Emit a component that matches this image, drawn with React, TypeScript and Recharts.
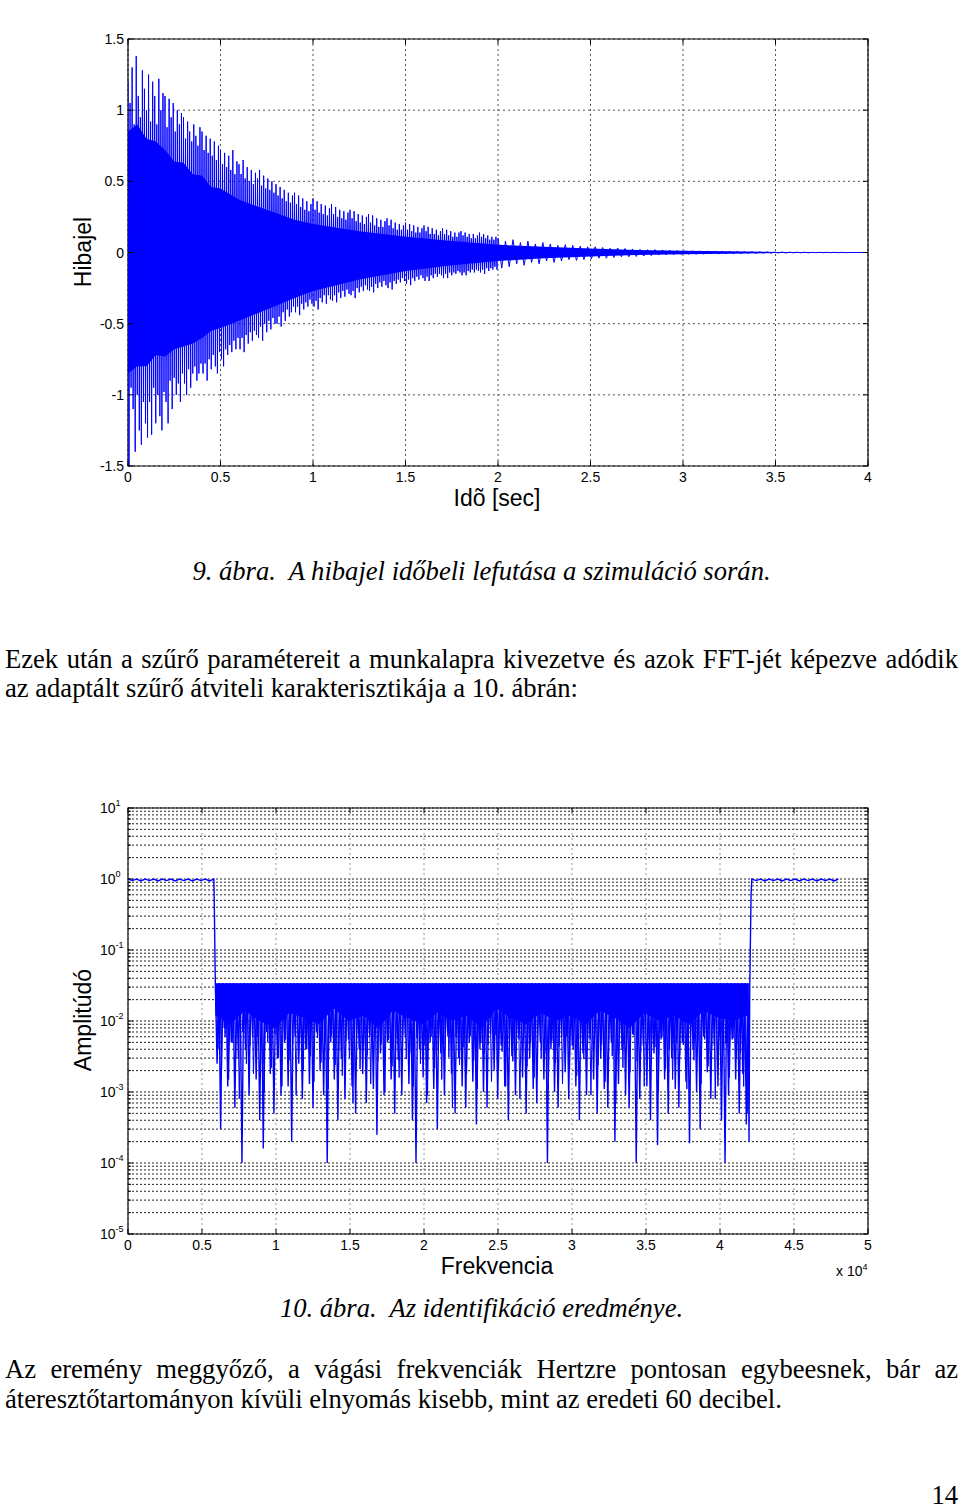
import React from "react";
import {
  ComposedChart,
  Line,
  Area,
  XAxis,
  YAxis,
  CartesianGrid,
  ReferenceArea,
} from "recharts";

// ---------- 9. ábra: hibajel ----------
const timeTicks = [0, 0.5, 1, 1.5, 2, 2.5, 3, 3.5, 4];
const errTicks = [-1.5, -1, -0.5, 0, 0.5, 1, 1.5];

// solid part of the signal (upper / lower edge)
const coreT = [0, 0.05, 0.1, 0.15, 0.2, 0.25, 0.3, 0.35, 0.4, 0.45, 0.5, 0.6, 0.75, 0.9, 1, 1.25, 1.5, 1.75, 2, 2.25, 2.5, 2.75, 3, 3.25, 3.5, 3.75, 4];
const coreHi = [0.85, 0.9, 0.8, 0.78, 0.72, 0.64, 0.63, 0.55, 0.54, 0.46, 0.45, 0.37, 0.3, 0.23, 0.2, 0.15, 0.11, 0.08, 0.055, 0.04, 0.028, 0.018, 0.012, 0.008, 0.004, 0.002, 0.001];
const coreLo = [-0.85, -0.8, -0.8, -0.72, -0.73, -0.68, -0.66, -0.64, -0.6, -0.55, -0.53, -0.48, -0.4, -0.32, -0.27, -0.19, -0.13, -0.09, -0.06, -0.04, -0.028, -0.018, -0.012, -0.008, -0.004, -0.002, -0.001];

// samples 0 .. 2 s (alternating peaks)
const errEarly = [
  1.2, -1.5, 1.05, -0.95, 1.3, -1.1, 0.9, -1.4, 1.38, -1.0, 1.1, -1.25, 0.95, -1.35, 1.28, -1.05, 1.15, -1.2,
  1.0, -1.3, 1.25, -1.05, 0.92, -1.28, 1.2, -0.95, 1.1, -1.2, 0.9, -1.0, 1.22, -1.15, 1.0, -1.25, 1.12, -0.98,
  1.1, -1.05, 0.88, -1.2, 1.08, -0.9, 0.95, -1.1, 1.05, -0.88, 0.85, -1.0, 1.0, -0.92, 0.9, -1.05, 0.98, -0.85,
  0.95, -0.92, 0.8, -1.0, 0.92, -0.82, 0.85, -0.95, 0.78, -0.85, 0.9, -0.8, 0.82, -0.9, 0.75, -0.85, 0.88, -0.78,
  0.85, -0.85, 0.72, -0.78, 0.82, -0.9, 0.7, -0.75, 0.8, -0.82, 0.68, -0.72, 0.78, -0.8, 0.65, -0.85, 0.75, -0.7,
  0.72, -0.75, 0.62, -0.8, 0.7, -0.68, 0.6, -0.72, 0.68, -0.65, 0.58, -0.7, 0.72, -0.62, 0.55, -0.68, 0.64, -0.6,
  0.62, -0.68, 0.55, -0.6, 0.65, -0.7, 0.52, -0.58, 0.6, -0.64, 0.5, -0.56, 0.58, -0.62, 0.48, -0.55, 0.56, -0.58,
  0.52, -0.6, 0.58, -0.52, 0.47, -0.62, 0.54, -0.5, 0.45, -0.56, 0.52, -0.48, 0.44, -0.54, 0.5, -0.46, 0.42, -0.5,
  0.48, -0.5, 0.4, -0.45, 0.46, -0.52, 0.38, -0.42, 0.44, -0.48, 0.36, -0.4, 0.42, -0.45, 0.35, -0.42, 0.4, -0.38,
  0.42, -0.42, 0.34, -0.38, 0.4, -0.44, 0.32, -0.36, 0.38, -0.4, 0.3, -0.35, 0.36, -0.38, 0.29, -0.33, 0.34, -0.36,
  0.38, -0.38, 0.3, -0.34, 0.36, -0.4, 0.28, -0.32, 0.34, -0.35, 0.27, -0.3, 0.33, -0.36, 0.26, -0.3, 0.31, -0.33,
  0.34, -0.34, 0.27, -0.3, 0.32, -0.35, 0.25, -0.28, 0.3, -0.32, 0.24, -0.27, 0.29, -0.31, 0.23, -0.26, 0.28, -0.29,
  0.3, -0.3, 0.24, -0.27, 0.29, -0.32, 0.22, -0.25, 0.27, -0.28, 0.21, -0.24, 0.26, -0.27, 0.2, -0.23, 0.25, -0.26,
  0.27, -0.27, 0.21, -0.24, 0.26, -0.28, 0.19, -0.22, 0.24, -0.25, 0.18, -0.21, 0.23, -0.24, 0.18, -0.2, 0.22, -0.23,
  0.24, -0.25, 0.19, -0.21, 0.23, -0.26, 0.17, -0.2, 0.21, -0.22, 0.16, -0.19, 0.2, -0.21, 0.16, -0.18, 0.19, -0.2,
  0.21, -0.22, 0.16, -0.19, 0.2, -0.23, 0.15, -0.18, 0.19, -0.2, 0.14, -0.17, 0.18, -0.19, 0.14, -0.16, 0.17, -0.18,
  0.19, -0.2, 0.15, -0.17, 0.18, -0.2, 0.13, -0.16, 0.17, -0.18, 0.13, -0.15, 0.16, -0.17, 0.12, -0.15, 0.15, -0.16,
  0.17, -0.18, 0.13, -0.15, 0.16, -0.18, 0.12, -0.14, 0.15, -0.16, 0.11, -0.14, 0.14, -0.15, 0.11, -0.13, 0.14, -0.14,
  0.15, -0.16, 0.12, -0.14, 0.14, -0.16, 0.11, -0.13, 0.13, -0.14, 0.1, -0.12, 0.13, -0.14, 0.1, -0.12, 0.12, -0.13,
  0.14, -0.14, 0.11, -0.12, 0.13, -0.15, 0.1, -0.11, 0.12, -0.13, 0.09, -0.11, 0.11, -0.12, 0.09, -0.1, 0.11, -0.12,
];
// samples 2 .. 4 s
const errLate = [
  0.1, -0.11, 0.08, -0.1, 0.09, -0.08, 0.07, -0.09, 0.08, -0.07, 0.06, -0.08, 0.07, -0.06, 0.06, -0.07, 0.05, -0.06, 0.055, -0.05, 0.05, -0.055, 0.045, -0.05, 0.04,
  -0.045, 0.04, -0.04, 0.035, -0.04, 0.03, -0.035, 0.032, -0.03, 0.028, -0.03, 0.025, -0.028, 0.022, -0.025, 0.02, -0.022, 0.02, -0.018, 0.018, -0.016, 0.015, -0.016, 0.014, -0.014,
  0.012, -0.013, 0.011, -0.012, 0.01, -0.01, 0.009, -0.009, 0.008, -0.008, 0.007, -0.007, 0.006, -0.007, 0.006, -0.006, 0.005, -0.005, 0.005, -0.005, 0.004, -0.004, 0.004, -0.004, 0.003,
  -0.003, 0.003, -0.003, 0.002, -0.002, 0.002, -0.002, 0.002, -0.002, 0.001, -0.001, 0.001, -0.001, 0.001, -0.001, 0.001, -0.001, 0.001, -0.001, 0, 0, 0, 0, 0, 0,
];

// ---------- 10. ábra: átviteli karakterisztika ----------
const freqTicks = [0, 5000, 10000, 15000, 20000, 25000, 30000, 35000, 40000, 45000, 50000];
const decades = [-5, -4, -3, -2, -1, 0, 1];
const mantissas = [1, 2, 3, 4, 5, 6, 7, 8, 9];

const lowEdge = 5800;
const passLow = [1, 0.95, 1, 0.94, 1, 0.95, 1, 0.94, 1, 0.95, 1, 0.94, 1, 0.95, 1, 0.94, 1, 0.95, 1, 0.94, 1];
const dropF = [5820, 5850];
const dropA = [0.6, 0.22];

const stopStart = 5900;
const stopEnd = 41900;
const stopTop = 0.034;
// lower edge of the solid stop-band band, evenly spread over the stop band
const stopCoreLo = [
  0.012, 0.009, 0.014, 0.01, 0.008, 0.013, 0.011, 0.009, 0.015, 0.01, 0.012, 0.008, 0.014, 0.011, 0.009, 0.013, 0.01, 0.012, 0.008,
  0.015, 0.011, 0.009, 0.013, 0.01, 0.012, 0.009, 0.014, 0.011, 0.008, 0.013, 0.01, 0.012, 0.009, 0.014, 0.011, 0.01, 0.012,
];
// deep notches of the stop band
const stopDips = [
  0.0025, 0.0003, 0.008, 0.0012, 0.005, 0.0006, 0.003, 0.0001, 0.004, 0.0009,
  0.006, 0.0015, 0.0004, 0.00016, 0.007, 0.0018, 0.0005, 0.003, 0.0009, 0.005,
  0.0012, 0.0002, 0.006, 0.0025, 0.0008, 0.004, 0.0013, 0.0006, 0.007, 0.002,
  0.0009, 0.0001, 0.005, 0.0015, 0.0004, 0.003, 0.0008, 0.0055, 0.0012, 0.0005,
  0.004, 0.0018, 0.0007, 0.006, 0.0011, 0.00025, 0.0035, 0.0009, 0.005, 0.0015,
  0.0005, 0.0028, 0.0009, 0.006, 0.0013, 0.0004, 0.0001, 0.004, 0.0016, 0.0007,
  0.005, 0.0011, 0.0003, 0.0035, 0.0009, 0.006, 0.0018, 0.0005, 0.003, 0.0012,
  0.0006, 0.005, 0.0014, 0.00035, 0.004, 0.001, 0.0006, 0.0065, 0.002, 0.0008,
  0.0045, 0.0012, 0.0004, 0.0032, 0.0009, 0.0055, 0.0016, 0.0005, 0.003, 0.0011,
  0.0007, 0.005, 0.0015, 0.0001, 0.004, 0.001, 0.0006, 0.006, 0.0019, 0.0008,
  0.0045, 0.0012, 0.0004, 0.0035, 0.0009, 0.0055, 0.0015, 0.0005, 0.003, 0.0011,
  0.0006, 0.005, 0.0002, 0.0013, 0.004, 0.0009, 0.0006, 0.0065, 0.0001, 0.0008,
  0.0045, 0.0012, 0.0004, 0.0035, 0.00018, 0.0055, 0.0015, 0.0005, 0.003, 0.0011,
  0.0006, 0.005, 0.0014, 0.00019, 0.004, 0.001, 0.0003, 0.006, 0.0019, 0.0008,
  0.0045, 0.0012, 0.0004, 0.0001, 0.0009, 0.0055, 0.0015, 0.0005, 0.0018, 0.00035,
];
// shallower notches in between
const stopDips2 = [
  0.004, 0.002, 0.006, 0.0015, 0.005, 0.003, 0.0008, 0.007, 0.0025, 0.0045,
  0.0018, 0.006, 0.0035, 0.001, 0.005, 0.0022, 0.0065, 0.003, 0.0012, 0.0055,
  0.0028, 0.0045, 0.0009, 0.006, 0.002, 0.004, 0.0032, 0.0014, 0.0058, 0.0026,
  0.0048, 0.0011, 0.0062, 0.0024, 0.0038, 0.0017, 0.0052, 0.003, 0.0007, 0.0056,
  0.0021, 0.0044, 0.0033, 0.0013, 0.006, 0.0027, 0.0047, 0.001, 0.0054, 0.0023,
  0.0041, 0.0016, 0.0063, 0.0029, 0.0036, 0.0012, 0.0057, 0.0025, 0.0045, 0.0009,
  0.006, 0.0022, 0.0039, 0.0015, 0.0053, 0.0031, 0.0006, 0.0059, 0.0024, 0.0043,
  0.0018, 0.0061, 0.0028, 0.0011, 0.005, 0.0034, 0.0046, 0.0014, 0.0064, 0.002,
  0.0037, 0.0012, 0.0055, 0.0027, 0.0042, 0.0008, 0.0058, 0.0023, 0.0049, 0.0016,
  0.0062, 0.003, 0.0035, 0.0011, 0.0052, 0.0026, 0.0044, 0.0013, 0.006, 0.0021,
  0.004, 0.0017, 0.0056, 0.0029, 0.0038, 0.0009, 0.0061, 0.0024, 0.0047, 0.0014,
  0.0053, 0.0032, 0.0007, 0.0058, 0.0022, 0.0045, 0.0019, 0.0063, 0.0027, 0.0036,
  0.0012, 0.0054, 0.0025, 0.0043, 0.001, 0.0059, 0.0021, 0.0039, 0.0015, 0.0051,
  0.0033, 0.0046, 0.0011, 0.0062, 0.0028, 0.0037, 0.0013, 0.0055, 0.0023, 0.0042,
  0.0008, 0.006, 0.0026, 0.0048, 0.0016, 0.0057, 0.003, 0.0035, 0.0012, 0.0005,
];
const riseF = [41960, 42010, 42060, 42100];
const riseA = [0.0002, 0.03, 0.16, 0.6];
const highStart = 42150;
const highEnd = 48000;
const passHigh = [1, 0.95, 1, 0.94, 1, 0.95, 1, 0.94, 1, 0.95, 1, 0.94, 1, 0.95, 1, 0.94, 1, 0.95, 1, 0.94, 1];

// ---------- data tables ----------
const coreData = coreT.map((t, i) => ({ t, r: [coreLo[i], coreHi[i]] }));
const peakData = [
  ...errEarly.map((v, i) => ({ t: (i * 2) / errEarly.length, v })),
  ...errLate.map((v, i) => ({ t: 2 + (i * 2) / (errLate.length - 1), v })),
];

const logTicks = decades.flatMap((d) => (d === 1 ? [10] : mantissas.map((m) => m * Math.pow(10, d))));

const stopStep = (stopEnd - stopStart) / stopDips.length;
const specData = [
  ...passLow.map((a, i) => ({ f: (i * lowEdge) / (passLow.length - 1), a })),
  ...dropF.map((f, i) => ({ f, a: dropA[i] })),
  ...stopDips.flatMap((d, k) => [
    { f: stopStart + k * stopStep, a: stopTop },
    { f: stopStart + (k + 0.5) * stopStep, a: d },
  ]),
  { f: stopEnd, a: stopTop },
  ...riseF.map((f, i) => ({ f, a: riseA[i] })),
  ...passHigh.map((a, i) => ({ f: highStart + (i * (highEnd - highStart)) / (passHigh.length - 1), a })),
];
const specData2 = [
  ...stopDips2.flatMap((d, k) => [
    { f: stopStart + (k + 0.25) * stopStep, a: stopTop },
    { f: stopStart + (k + 0.75) * stopStep, a: d },
  ]),
  { f: stopEnd - 0.05 * stopStep, a: stopTop },
];
const coreSpec = stopCoreLo.map((lo, i) => ({
  f: stopStart + (i * (stopEnd - stopStart)) / (stopCoreLo.length - 1),
  r: [lo, stopTop],
}));

const BLUE = "#0000ff";
const SANS = "'Liberation Sans', Arial, sans-serif";
const SERIF = "'Liberation Serif', 'Times New Roman', serif";

// plot frames (svg coordinates)
const P1 = { l: 128, r: 868, t: 39, b: 466 };
const P2 = { l: 128, r: 868, t: 48, b: 474 };

function TimeTick(p: any) {
  return (
    <g>
      <line x1={p.x} x2={p.x} y1={P1.b} y2={P1.b - 5} stroke="#000" />
      <line x1={p.x} x2={p.x} y1={P1.t} y2={P1.t + 5} stroke="#000" />
      <text x={p.x} y={P1.b + 16} textAnchor="middle" fontSize={14} fontFamily={SANS} fill="#000">
        {p.payload.value}
      </text>
    </g>
  );
}

function ErrTick(p: any) {
  return (
    <g>
      <line x1={P1.l} x2={P1.l + 5} y1={p.y} y2={p.y} stroke="#000" />
      <line x1={P1.r - 5} x2={P1.r} y1={p.y} y2={p.y} stroke="#000" />
      <text x={124} y={p.y + 5} textAnchor="end" fontSize={14} fontFamily={SANS} fill="#000">
        {p.payload.value}
      </text>
    </g>
  );
}

function FreqTick(p: any) {
  return (
    <g>
      <line x1={p.x} x2={p.x} y1={P2.b} y2={P2.b - 5} stroke="#000" />
      <line x1={p.x} x2={p.x} y1={P2.t} y2={P2.t + 5} stroke="#000" />
      <text x={p.x} y={P2.b + 16} textAnchor="middle" fontSize={14} fontFamily={SANS} fill="#000">
        {p.payload.value / 10000}
      </text>
    </g>
  );
}

function AmpTick(p: any) {
  const lg = Math.log10(p.payload.value);
  const major = Math.abs(lg - Math.round(lg)) < 1e-6;
  const len = major ? 5 : 3;
  return (
    <g>
      <line x1={P2.l} x2={P2.l + len} y1={p.y} y2={p.y} stroke="#000" />
      <line x1={P2.r - len} x2={P2.r} y1={p.y} y2={p.y} stroke="#000" />
      {major && (
        <text x={100} y={p.y + 5} fontSize={14} fontFamily={SANS} fill="#000">
          10
          <tspan dy={-7} fontSize={9}>
            {Math.round(lg)}
          </tspan>
        </text>
      )}
    </g>
  );
}

function TextLine(props: {
  x: number;
  base: number;
  size?: number;
  italic?: boolean;
  width?: number;
  justify?: boolean;
  align?: "left" | "center" | "right";
  children: React.ReactNode;
}) {
  const size = props.size ?? 26.6;
  return (
    <div
      style={{
        position: "absolute",
        left: props.x,
        top: props.base - 0.8375 * size,
        width: props.width,
        fontFamily: SERIF,
        fontSize: size,
        lineHeight: `${size}px`,
        fontStyle: props.italic ? "italic" : "normal",
        whiteSpace: "pre",
        textAlign: props.justify ? "justify" : props.align ?? "left",
        textAlignLast: props.justify ? "justify" : undefined,
        color: "#000",
      }}
    >
      {props.children}
    </div>
  );
}

function AxisTitle(props: { x: number; y: number; rotate?: boolean; children: React.ReactNode }) {
  return (
    <div
      style={{
        position: "absolute",
        left: props.x,
        top: props.y,
        transform: `translate(-50%, -50%)${props.rotate ? " rotate(-90deg)" : ""}`,
        fontFamily: SANS,
        fontSize: 23,
        lineHeight: "23px",
        whiteSpace: "nowrap",
        color: "#000",
      }}
    >
      {props.children}
    </div>
  );
}

function ErrorSignalChart() {
  return (
    <ComposedChart width={960} height={530} margin={{ top: P1.t, right: 960 - P1.r, bottom: 530 - P1.b - 30, left: P1.l - 40 }}>
      <CartesianGrid stroke="#555" strokeDasharray="2 3" />
      <XAxis
        dataKey="t"
        type="number"
        domain={[0, 4]}
        ticks={timeTicks}
        interval={0}
        height={30}
        axisLine={false}
        tickLine={false}
        tick={TimeTick}
        allowDataOverflow
      />
      <YAxis
        type="number"
        domain={[-1.5, 1.5]}
        ticks={errTicks}
        interval={0}
        width={40}
        axisLine={false}
        tickLine={false}
        tick={ErrTick}
        allowDataOverflow
      />
      <Area data={coreData} dataKey="r" type="linear" stroke="none" fill={BLUE} fillOpacity={1} isAnimationActive={false} />
      <Line data={peakData} dataKey="v" type="linear" stroke={BLUE} strokeWidth={1} dot={false} isAnimationActive={false} />
      <ReferenceArea x1={0} x2={4} y1={-1.5} y2={1.5} fill="none" stroke="#000" strokeWidth={1.2} />
    </ComposedChart>
  );
}

function ResponseChart() {
  return (
    <ComposedChart width={960} height={540} margin={{ top: P2.t, right: 960 - P2.r, bottom: 540 - P2.b - 30, left: P2.l - 40 }}>
      <CartesianGrid stroke="#222" strokeDasharray="2 2" vertical={false} />
      <CartesianGrid stroke="#999" strokeDasharray="2 3" horizontal={false} />
      <XAxis
        dataKey="f"
        type="number"
        domain={[0, 50000]}
        ticks={freqTicks}
        interval={0}
        height={30}
        axisLine={false}
        tickLine={false}
        tick={FreqTick}
        allowDataOverflow
      />
      <YAxis
        type="number"
        scale="log"
        domain={[1e-5, 10]}
        ticks={logTicks}
        interval={0}
        width={40}
        axisLine={false}
        tickLine={false}
        tick={AmpTick}
        allowDataOverflow
      />
      <Area data={coreSpec} dataKey="r" type="linear" stroke="none" fill={BLUE} fillOpacity={1} isAnimationActive={false} />
      <Line data={specData2} dataKey="a" type="linear" stroke={BLUE} strokeWidth={1} dot={false} isAnimationActive={false} />
      <Line data={specData} dataKey="a" type="linear" stroke={BLUE} strokeWidth={1.4} dot={false} isAnimationActive={false} />
      <ReferenceArea x1={0} x2={50000} y1={1e-5} y2={10} fill="none" stroke="#000" strokeWidth={1.2} />
    </ComposedChart>
  );
}

export default function App() {
  return (
    <div style={{ position: "absolute", left: 0, top: 0, width: 960, height: 1510, background: "#fff", overflow: "hidden" }}>
      <div style={{ position: "absolute", left: 0, top: 0 }}>
        <ErrorSignalChart />
      </div>
      <AxisTitle x={83} y={252} rotate>
        Hibajel
      </AxisTitle>
      <AxisTitle x={497} y={498}>
        Idõ [sec]
      </AxisTitle>

      <TextLine x={0} base={580} width={963} italic align="center">
        {"9. ábra.  A hibajel időbeli lefutása a szimuláció során."}
      </TextLine>

      <TextLine x={5} base={668} width={953} justify>
        Ezek után a szűrő paramétereit a munkalapra kivezetve és azok FFT-jét képezve adódik
      </TextLine>
      <TextLine x={5} base={697}>
        az adaptált szűrő átviteli karakterisztikája a 10. ábrán:
      </TextLine>

      <div style={{ position: "absolute", left: 0, top: 760 }}>
        <ResponseChart />
      </div>
      <AxisTitle x={83} y={1020} rotate>
        Amplitúdó
      </AxisTitle>
      <AxisTitle x={497} y={1266}>
        Frekvencia
      </AxisTitle>
      <div
        style={{
          position: "absolute",
          left: 836,
          top: 1260,
          fontFamily: SANS,
          fontSize: 14,
          lineHeight: "14px",
          whiteSpace: "nowrap",
        }}
      >
        x 10<sup style={{ fontSize: 9, verticalAlign: "6px" }}>4</sup>
      </div>

      <TextLine x={0} base={1317} width={963} italic align="center">
        {"10. ábra.  Az identifikáció eredménye."}
      </TextLine>

      <TextLine x={5} base={1378} width={953} justify>
        Az eremény meggyőző, a vágási frekvenciák Hertzre pontosan egybeesnek, bár az
      </TextLine>
      <TextLine x={5} base={1408}>
        áteresztőtartományon kívüli elnyomás kisebb, mint az eredeti 60 decibel.
      </TextLine>

      <TextLine x={858} base={1504} width={100} align="right">
        14
      </TextLine>
    </div>
  );
}
